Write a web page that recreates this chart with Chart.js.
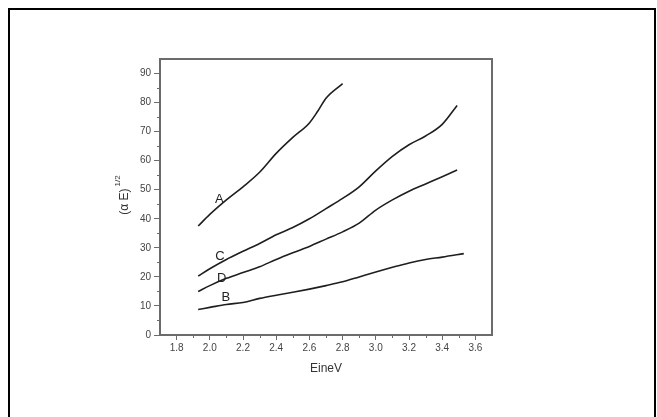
<!DOCTYPE html>
<html>
<head>
<meta charset="utf-8">
<script src="https://cdn.jsdelivr.net/npm/chart.js@4"></script>
<style>
  html, body { margin: 0; padding: 0; background: #fff; }
  #wrap { width: 657px; height: 417px; position: relative; }
</style>
</head>
<body>
<div id="wrap"><canvas id="chart" width="657" height="417"></canvas></div>
<script>
// ===== Data =====
const energyA = [1.93, 2.0, 2.1, 2.2, 2.3, 2.4, 2.5, 2.6, 2.65, 2.7, 2.8];
const curveA  = [37.5, 41.5, 46.5, 51, 56, 62.5, 68, 73, 77, 81.5, 86.5];

const energyCD = [1.93, 2.0, 2.1, 2.2, 2.3, 2.4, 2.5, 2.6, 2.7, 2.8, 2.9, 3.0, 3.1, 3.2, 3.3, 3.4, 3.49];
const curveC   = [20.3, 22.8, 26, 28.8, 31.5, 34.5, 37, 40, 43.5, 47, 51, 56.5, 61.5, 65.5, 68.5, 72.5, 79];
const curveD   = [15, 17, 19.5, 21.5, 23.5, 26, 28.3, 30.5, 33, 35.5, 38.5, 43, 46.5, 49.5, 52, 54.5, 56.8];

const energyB = [1.93, 2.0, 2.1, 2.2, 2.3, 2.4, 2.5, 2.6, 2.7, 2.8, 2.9, 3.0, 3.1, 3.2, 3.3, 3.4, 3.53];
const curveB  = [8.8, 9.5, 10.5, 11.2, 12.6, 13.7, 14.7, 15.8, 17, 18.3, 20, 21.7, 23.3, 24.8, 26, 26.8, 28];

// curve labels (name, x, y in data units)
const labelNames = ['A', 'C', 'D', 'B'];
const labelX = [2.057, 2.061, 2.071, 2.097];
const labelY = [46.7, 26.9, 19.5, 13];

const xTicks = [1.8, 2.0, 2.2, 2.4, 2.6, 2.8, 3.0, 3.2, 3.4, 3.6];
const yTicks = [0, 10, 20, 30, 40, 50, 60, 70, 80, 90];

const xTitle = 'EineV';
const yTitleMain = '(\u03B1 E)';
const yTitleSup = '1/2';

function toPoints(xs, ys) {
  return xs.map((x, i) => ({ x: x, y: ys[i] }));
}

function curve(xs, ys) {
  return {
    data: toPoints(xs, ys),
    showLine: true,
    borderColor: '#1e1e1e',
    borderWidth: 1.6,
    pointRadius: 0,
    cubicInterpolationMode: 'monotone',
    fill: false
  };
}

const FONT = '"Liberation Sans", Arial, sans-serif';
const AXIS = '#6b6b6b';

// ===== Extra drawing: frame, minor ticks, titles, curve labels =====
const decorPlugin = {
  id: 'decor',
  afterDraw(chart) {
    const ctx = chart.ctx;
    const xs = chart.scales.x, ys = chart.scales.y;
    const a = chart.chartArea;
    ctx.save();

    // outer figure border (bottom is cut off)
    ctx.fillStyle = '#000';
    ctx.fillRect(8, 8, 648 - 0, 2);
    ctx.fillRect(8, 8, 2, 417 - 8);
    ctx.fillRect(654, 8, 2, 417 - 8);

    // plot frame
    ctx.strokeStyle = AXIS;
    ctx.lineWidth = 2;
    ctx.strokeRect(a.left, a.top, a.right - a.left, a.bottom - a.top);

    // minor ticks
    ctx.lineWidth = 1;
    for (let v = 5; v < 95; v += 10) {
      const py = Math.round(ys.getPixelForValue(v)) + 0.5;
      ctx.beginPath(); ctx.moveTo(a.left - 3, py); ctx.lineTo(a.left, py); ctx.stroke();
    }
    for (let v = 1.9; v < 3.7; v += 0.2) {
      const px = Math.round(xs.getPixelForValue(v)) + 0.5;
      ctx.beginPath(); ctx.moveTo(px, a.bottom); ctx.lineTo(px, a.bottom + 3); ctx.stroke();
    }

    // axis titles
    ctx.fillStyle = '#333';
    ctx.font = '12px ' + FONT;
    ctx.textAlign = 'center';
    ctx.textBaseline = 'middle';
    ctx.fillText(xTitle, (a.left + a.right) / 2, 369);

    ctx.translate(125, 195);
    ctx.rotate(-Math.PI / 2);
    const mainW = ctx.measureText(yTitleMain).width;
    ctx.font = '8px ' + FONT;
    const supW = ctx.measureText(yTitleSup).width;
    const total = mainW + 2 + supW;
    ctx.textAlign = 'left';
    ctx.font = '12px ' + FONT;
    ctx.fillText(yTitleMain, -total / 2, 0);
    ctx.font = '8px ' + FONT;
    ctx.fillText(yTitleSup, -total / 2 + mainW + 2, -7);
    ctx.setTransform(1, 0, 0, 1, 0, 0);

    // curve labels
    ctx.fillStyle = '#222';
    ctx.font = '13px ' + FONT;
    ctx.textAlign = 'center';
    ctx.textBaseline = 'middle';
    labelNames.forEach((n, i) => {
      ctx.fillText(n, xs.getPixelForValue(labelX[i]), ys.getPixelForValue(labelY[i]));
    });
    ctx.restore();
  }
};

new Chart(document.getElementById('chart'), {
  type: 'scatter',
  data: {
    datasets: [
      curve(energyA, curveA),
      curve(energyCD, curveC),
      curve(energyCD, curveD),
      curve(energyB, curveB)
    ]
  },
  options: {
    responsive: false,
    animation: false,
    layout: { padding: { left: 0, top: 59, right: 165, bottom: 0 } },
    plugins: { legend: { display: false }, tooltip: { enabled: false } },
    scales: {
      x: {
        type: 'linear',
        min: 1.7, max: 3.7,
        afterFit(scale) { scale.height = 82; },
        afterBuildTicks(scale) { scale.ticks = xTicks.map(v => ({ value: v })); },
        grid: { drawOnChartArea: false, drawTicks: true, tickLength: 5, color: AXIS, tickWidth: 1 },
        border: { color: AXIS, width: 2 },
        ticks: {
          color: '#444', padding: 2,
          font: { family: FONT, size: 10 },
          callback: v => v.toFixed(1)
        }
      },
      y: {
        type: 'linear',
        min: 0, max: 95,
        afterFit(scale) { scale.width = 160; },
        afterBuildTicks(scale) { scale.ticks = yTicks.map(v => ({ value: v })); },
        grid: { drawOnChartArea: false, drawTicks: true, tickLength: 6, color: AXIS, tickWidth: 1 },
        border: { color: AXIS, width: 2 },
        ticks: {
          color: '#444', padding: 3,
          font: { family: FONT, size: 10 },
          callback: v => String(v)
        }
      }
    }
  },
  plugins: [decorPlugin]
});
</script>
</body>
</html>
